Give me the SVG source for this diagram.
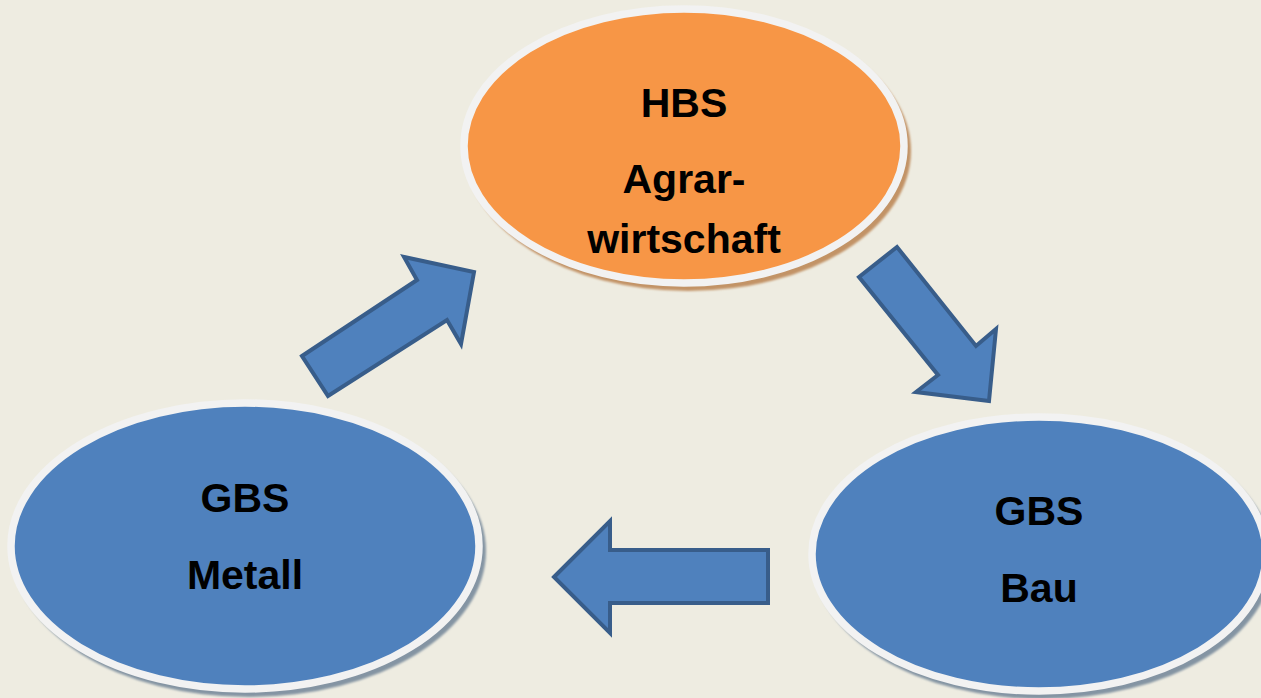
<svg xmlns="http://www.w3.org/2000/svg" width="1261" height="698" viewBox="0 0 1261 698">
<defs>
<filter id="blur" x="-10%" y="-10%" width="120%" height="120%"><feGaussianBlur stdDeviation="1"/></filter>
</defs>
<style>
.bg{fill:#EEECE1}
.rim{stroke:#F2F2F2;stroke-width:7.5}
.blue{fill:#4F81BD}
.orange{fill:#F79646}
.shb{fill:#8494A3}
.sho{fill:#C29366}
.arrow{fill:#4F81BD;stroke:#385D8A;stroke-width:4;stroke-linejoin:miter}
text{font-family:"Liberation Sans",Arial,sans-serif;font-weight:bold;font-size:41px;fill:#000;text-anchor:middle}
</style>
<rect class="bg" x="0" y="0" width="1261" height="698"/>
<g id="node-hbs">
<ellipse class="sho" cx="688" cy="151" rx="223" ry="140" filter="url(#blur)"/>
<ellipse class="orange rim" cx="684" cy="146" rx="220" ry="137"/>
<text x="684" y="117">HBS</text>
<text x="684" y="193">Agrar-</text>
<text x="684" y="253">wirtschaft</text>
</g>
<g id="node-metall">
<ellipse class="shb" cx="249" cy="551" rx="237" ry="146" filter="url(#blur)"/>
<ellipse class="blue rim" cx="245" cy="546" rx="234" ry="143"/>
<text x="245" y="512">GBS</text>
<text x="245" y="589">Metall</text>
</g>
<g id="node-bau">
<ellipse class="shb" cx="1043" cy="559" rx="230" ry="140" filter="url(#blur)"/>
<ellipse class="blue rim" cx="1039" cy="554" rx="227" ry="137"/>
<text x="1039" y="525">GBS</text>
<text x="1039" y="602">Bau</text>
</g>
<g id="connectors">
<polygon class="arrow" points="302,356 417,280 404,257 474,272 461,344 447,320 328,396"/>
<polygon class="arrow" points="859,277 897,247 976,346 996,329 989,401 916,392 938,375"/>
<polygon class="arrow" points="554,577 610,521 610,550 768,550 768,603 610,603 610,633"/>
</g>
</svg>
